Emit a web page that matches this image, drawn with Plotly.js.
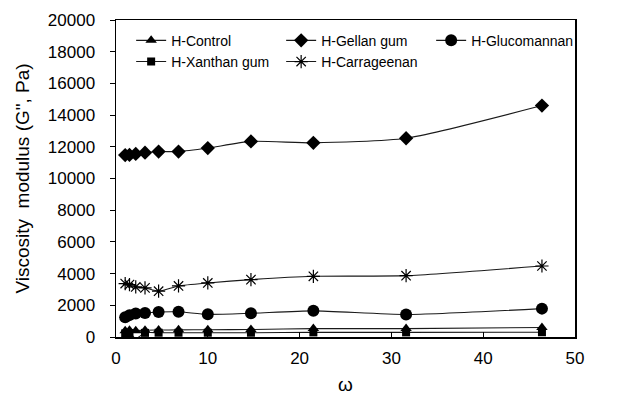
<!DOCTYPE html>
<html>
<head>
<meta charset="utf-8">
<script src="https://cdn.plot.ly/plotly-3.0.1.min.js"></script>
<style>html,body{margin:0;padding:0;background:#fff;}#chart{width:622px;height:396px;}</style>
</head>
<body>
<div id="chart"></div>
<script>
var omega = [1, 1.47, 2.15, 3.16, 4.64, 6.81, 10, 14.7, 21.5, 31.6, 46.4];
var hControl = [400, 420, 400, 430, 440, 450, 460, 470, 530, 530, 600];
var hGellan = [11480, 11490, 11550, 11630, 11700, 11700, 11920, 12340, 12250, 12540, 14600];
var hGlucomannan = [1250, 1380, 1480, 1520, 1580, 1590, 1430, 1500, 1650, 1420, 1790];
var hXanthan = [230, 250, -100, 260, 270, 270, 270, 270, 290, 290, 300];
var hCarrageenan = [3370, 3310, 3160, 3100, 2890, 3220, 3410, 3620, 3830, 3870, 4480];

var seriesNames = ['H-Control', 'H-Gellan gum', 'H-Glucomannan', 'H-Xanthan gum', 'H-Carrageenan'];
var seriesData = [hControl, hGellan, hGlucomannan, hXanthan, hCarrageenan];
var symbols = ['triangle-up', 'diamond', 'circle', 'square', 'asterisk-open'];
var sizes = [10, 11, 12, 8, 11];

var traces = seriesNames.map(function (n, i) {
  return {
    x: omega, y: seriesData[i], name: n, type: 'scatter', mode: 'lines+markers',
    cliponaxis: false,
    line: {color: '#1a1a1a', width: 1.1, shape: 'spline', smoothing: 0.6},
    marker: {symbol: symbols[i], size: sizes[i], color: '#000',
             line: {color: '#000', width: symbols[i] === 'asterisk-open' ? 1.2 : 0}}
  };
});

var fam = 'Liberation Sans, Arial, sans-serif';
var tickFont = {family: fam, size: 17, color: '#000'};
var titleFont = {family: fam, size: 19, color: '#000'};
var layout = {
  width: 622, height: 396,
  margin: {l: 116, r: 47, t: 20, b: 59},
  paper_bgcolor: '#fff', plot_bgcolor: '#fff',
  font: tickFont,
  showlegend: true,
  legend: {orientation: 'h', x: 0.033, y: 0.985, xanchor: 'left', yanchor: 'top',
           font: {family: fam, size: 14, color: '#000'},
           itemwidth: 30, entrywidth: 105, entrywidthmode: 'pixels', bgcolor: 'rgba(0,0,0,0)',
           tracegroupgap: 0},
  xaxis: {range: [0, 50], dtick: 10, tick0: 0, showgrid: false, zeroline: false,
          showline: true, linecolor: '#000', linewidth: 1.5, mirror: true,
          ticks: 'inside', ticklen: 5, tickcolor: '#000', tickfont: tickFont,
          ticklabelstandoff: 5,
          title: {text: 'ω', font: titleFont, standoff: 11}},
  yaxis: {range: [0, 20000], dtick: 2000, tick0: 0, showgrid: false, zeroline: false,
          showline: true, linecolor: '#000', linewidth: 1.5, mirror: true,
          ticks: 'outside', ticklen: 5, tickcolor: '#000', tickfont: tickFont,
          exponentformat: 'none', separatethousands: false, tickformat: 'd',
          ticklabelstandoff: 11,
          title: {text: 'Viscosity\u00A0 modulus (G", Pa)', font: titleFont, standoff: 13}}
};
Plotly.newPlot('chart', traces, layout, {displayModeBar: false, staticPlot: true});
</script>
</body>
</html>
